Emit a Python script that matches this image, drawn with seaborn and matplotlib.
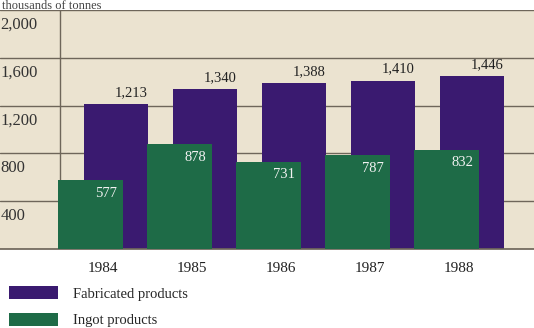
import numpy as np
import pandas as pd
import matplotlib
matplotlib.use("Agg")
import matplotlib.pyplot as plt
import seaborn as sns
from matplotlib.patches import Patch

# Data (thousands of tonnes)
years = [1984, 1985, 1986, 1987, 1988]
fabricated = [1213, 1340, 1388, 1410, 1446]
ingot = [577, 878, 731, 787, 832]
y_ticks = [400, 800, 1200, 1600, 2000]
y_labels = ["400", "800", "1,200", "1,600", "2,000"]

PURPLE = "#3a1a70"
GREEN = "#1e6b47"
BEIGE = "#ebe3d0"
GRID = "#6e665a"

sns.set_theme(style="white")
plt.rcParams["font.family"] = ["Liberation Serif", "DejaVu Serif"]

fab_df = pd.DataFrame({"x": np.array(years) + 0.146, "value": fabricated})
ing_df = pd.DataFrame({"x": np.array(years) - 0.135, "value": ingot})

fig = plt.figure(figsize=(5.34, 3.28), dpi=100)
ax = fig.add_axes([0.0, 0.2409, 1.0, 0.7286])
ax.set_facecolor(BEIGE)

for v in y_ticks:
    ax.axhline(v, color=GRID, lw=1.0, zorder=1)
ax.axvline(years[0] - 0.483, color=GRID, lw=1.0, zorder=1)

sns.barplot(data=fab_df, x="x", y="value", native_scale=True, width=0.71,
            color=PURPLE, saturation=1, linewidth=0, ax=ax, zorder=2)
sns.barplot(data=ing_df, x="x", y="value", native_scale=True, width=0.73,
            color=GREEN, saturation=1, linewidth=0, ax=ax, zorder=3)

ax.set_xlim(years[0] - 1.157, years[0] + 4.843)
ax.set_ylim(0, 2000)
ax.set_xticks([])
ax.set_yticks([])
ax.set_xlabel("")
ax.set_ylabel("")
for side in ["top", "right", "left"]:
    ax.spines[side].set_visible(False)
ax.spines["bottom"].set_color(GRID)

# y labels sit just below their gridline inside the left column
for v, lab in zip(y_ticks, y_labels):
    ax.text(years[0] - 1.155, v - 125, lab, ha="left", va="center",
            fontsize=12, color="#333333")

# value labels
for yr, f, g in zip(years, fabricated, ingot):
    right_f = yr + 0.146 + 0.355
    ax.text(right_f, f + 95, f"{f:,}", ha="right", va="center",
            fontsize=10.5, color="#222222")
    right_g = yr - 0.135 + 0.365
    ax.text(right_g - 0.07, g - 110, f"{g}", ha="right", va="center",
            fontsize=10.5, color="#f2f2f2")
    ax.text(yr, -160, str(yr), ha="center", va="center",
            fontsize=11, color="#222222", clip_on=False)

fig.text(0.004, 1.0, "thousands of tonnes", ha="left", va="top",
         fontsize=9, color="#444444")

handles = [Patch(facecolor=PURPLE, edgecolor="none", label="Fabricated products"),
           Patch(facecolor=GREEN, edgecolor="none", label="Ingot products")]
fig.legend(handles=handles, loc="lower left", bbox_to_anchor=(0.0, -0.025),
           frameon=False, fontsize=10.5, handlelength=3.4, handleheight=1.0,
           labelspacing=0.85, handletextpad=1.0, borderaxespad=0.2)

fig.savefig("out.png", dpi=100)
